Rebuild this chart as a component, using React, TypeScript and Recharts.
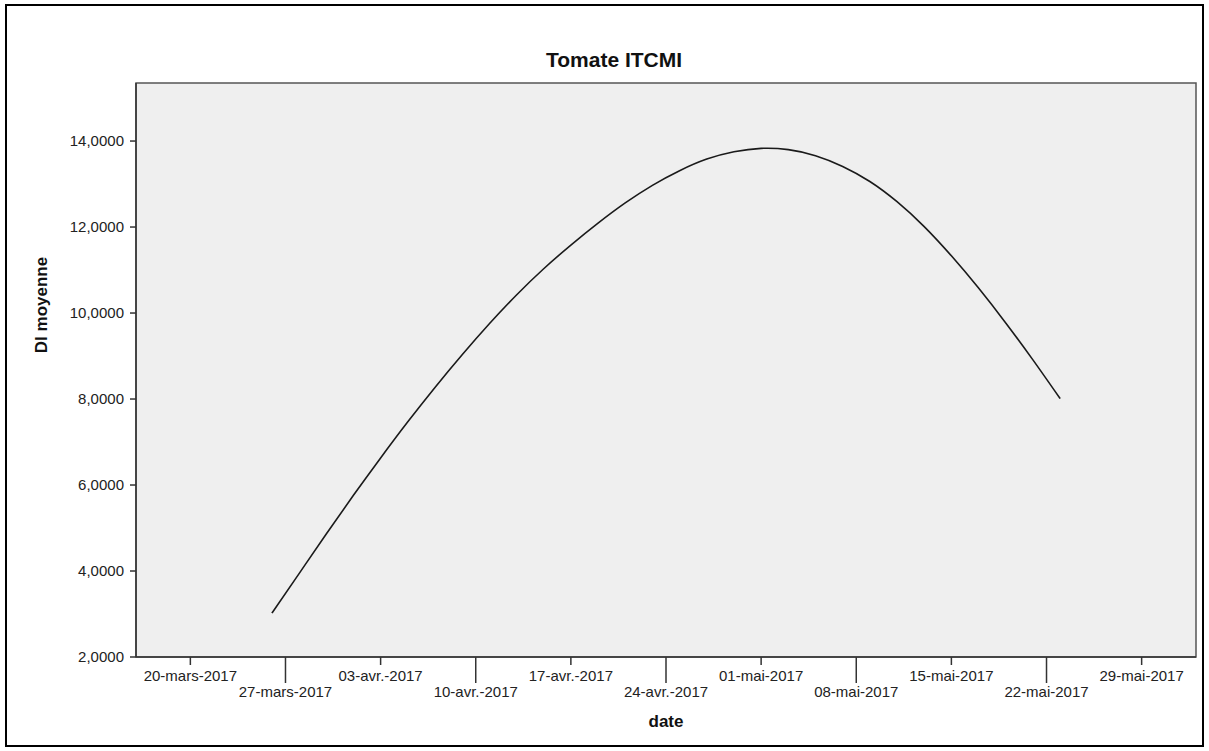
import { Line, LineChart, ReferenceArea, XAxis, YAxis } from 'recharts';

// DI moyenne readings (every 2 days)
const DATES = [
  '2017-03-26', '2017-03-28', '2017-03-30', '2017-04-01', '2017-04-03', '2017-04-05',
  '2017-04-07', '2017-04-09', '2017-04-11', '2017-04-13', '2017-04-15', '2017-04-17',
  '2017-04-19', '2017-04-21', '2017-04-23', '2017-04-25', '2017-04-27', '2017-04-29',
  '2017-05-01', '2017-05-03', '2017-05-05', '2017-05-07', '2017-05-09', '2017-05-11',
  '2017-05-13', '2017-05-15', '2017-05-17', '2017-05-19', '2017-05-21', '2017-05-23'
];
const DI_MOYENNE = [
  3.02, 3.94, 4.86, 5.76, 6.63, 7.47,
  8.27, 9.03, 9.75, 10.42, 11.03, 11.58,
  12.09, 12.56, 12.97, 13.31, 13.58, 13.75,
  13.83, 13.80, 13.66, 13.41, 13.06, 12.59,
  12.01, 11.33, 10.58, 9.77, 8.91, 8.01
];

const TICK_DATES = [
  '2017-03-20', '2017-03-27', '2017-04-03', '2017-04-10', '2017-04-17', '2017-04-24',
  '2017-05-01', '2017-05-08', '2017-05-15', '2017-05-22', '2017-05-29'
];
const TICK_LABELS = [
  '20-mars-2017', '27-mars-2017', '03-avr.-2017', '10-avr.-2017', '17-avr.-2017', '24-avr.-2017',
  '01-mai-2017', '08-mai-2017', '15-mai-2017', '22-mai-2017', '29-mai-2017'
];
const X_RANGE = ['2017-03-16', '2017-06-02'];
const Y_TICKS = [2, 4, 6, 8, 10, 12, 14];
const Y_MAX = 15.35;

const FONT = '"Liberation Sans", Arial, sans-serif';
const ts = (d: string) => new Date(d + 'T00:00:00Z').getTime();

const data = DATES.map((d, i) => ({ t: ts(d), value: DI_MOYENNE[i] }));
const tickTimes = TICK_DATES.map(ts);
const xDomain = X_RANGE.map(ts);

const DateTick = (props: any) => {
  const { x, y, payload } = props;
  const i = tickTimes.indexOf(payload.value);
  const long = i % 2 === 1;
  return (
    <g>
      <line x1={x} x2={x} y1={y} y2={y + (long ? 26 : 8)} stroke="#333" strokeWidth={1.5} />
      <text x={x} y={y + (long ? 40 : 24)} textAnchor="middle" fontSize={15} fill="#222" fontFamily={FONT}>
        {TICK_LABELS[i]}
      </text>
    </g>
  );
};

export default function App() {
  return (
    <div style={{ position: 'absolute', left: 0, top: 0, width: 1209, height: 751, background: '#fff', fontFamily: FONT }}>
      <div style={{ position: 'absolute', left: 5, top: 4, width: 1199, height: 743, border: '2px solid #000', boxSizing: 'border-box' }} />
      <div style={{ position: 'absolute', left: 0, width: 1228, top: 48, textAlign: 'center', fontSize: 21, fontWeight: 700, color: '#111', lineHeight: '24px' }}>
        Tomate ITCMI
      </div>
      <div style={{ position: 'absolute', left: 42, top: 305, transform: 'translate(-50%, -50%) rotate(-90deg)', fontSize: 17, fontWeight: 700, color: '#111', whiteSpace: 'nowrap' }}>
        DI moyenne
      </div>
      <div style={{ position: 'absolute', left: 666, top: 722, transform: 'translate(-50%, -50%)', fontSize: 17, fontWeight: 700, color: '#111' }}>
        date
      </div>
      <div style={{ position: 'absolute', left: 0, top: 0 }}>
        <LineChart width={1209} height={751} data={data} margin={{ top: 83, right: 13, bottom: 0, left: 0 }}>
          <ReferenceArea x1={xDomain[0]} x2={xDomain[1]} y1={2} y2={Y_MAX} fill="#efefef" fillOpacity={1} stroke="#555" strokeWidth={1.5} />
          <XAxis
            dataKey="t"
            type="number"
            domain={xDomain}
            ticks={tickTimes}
            allowDataOverflow
            height={94}
            tickSize={0}
            tickMargin={0}
            axisLine={{ stroke: '#333', strokeWidth: 1.5 }}
            tick={<DateTick />}
            interval={0}
          />
          <YAxis
            type="number"
            domain={[2, Y_MAX]}
            ticks={Y_TICKS}
            allowDataOverflow
            width={136}
            tickSize={6}
            tickMargin={6}
            tickFormatter={(v: number) => v.toFixed(4).replace('.', ',')}
            tick={{ fontSize: 15, fill: '#222', fontFamily: FONT }}
            tickLine={{ stroke: '#333', strokeWidth: 1.5 }}
            axisLine={{ stroke: '#333', strokeWidth: 1.5 }}
            interval={0}
          />
          <Line type="natural" dataKey="value" stroke="#1a1a1a" strokeWidth={1.6} dot={false} isAnimationActive={false} />
        </LineChart>
      </div>
    </div>
  );
}
